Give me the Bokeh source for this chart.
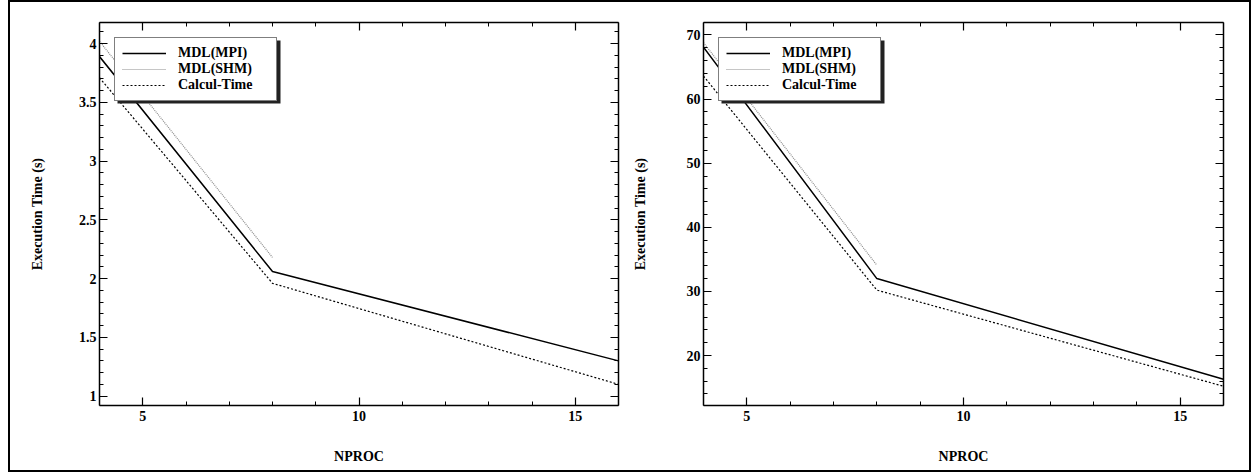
from bokeh.plotting import figure
from bokeh.models import (Range1d, LinearAxis, SingleIntervalTicker,
                          CustomJSTickFormatter, Legend, LegendItem, BoxAnnotation)
from bokeh.layouts import row
from bokeh.embed import file_html
from bokeh.resources import INLINE

# ---- data ----
nproc = [4, 8, 16]
nproc_shm = [4, 8]

small_mpi = [3.89, 2.06, 1.30]
small_shm = [4.02, 2.18]
small_calc = [3.71, 1.96, 1.10]

large_mpi = [68.1, 32.0, 16.3]
large_shm = [68.8, 34.1]
large_calc = [63.6, 30.2, 15.2]

labels = ["MDL(MPI)", "MDL(SHM)", "Calcul-Time"]
x_label = "NPROC"
y_label = "Execution Time (s)"

FONT = "Liberation Serif"
FRAME_H = 383  # plot frame height in px (468 - 20 - 65)


def style_axis(ax, show_labels=True):
    ax.axis_line_color = "black"
    ax.axis_line_width = 1.5
    ax.major_tick_line_color = "black"
    ax.major_tick_line_width = 1.2
    ax.minor_tick_line_color = "black"
    ax.minor_tick_line_width = 1.0
    ax.major_tick_in = 8
    ax.major_tick_out = 0
    ax.minor_tick_in = 4
    ax.minor_tick_out = 0
    ax.major_label_text_font = FONT
    ax.major_label_text_font_style = "bold"
    ax.axis_label_text_font = FONT
    ax.axis_label_text_font_style = "bold"
    ax.axis_label_text_font_size = "14px"
    ax.axis_label_text_color = "black"
    if show_labels:
        ax.major_label_text_font_size = "14px"
        ax.major_label_text_color = "black"
    else:
        ax.major_label_text_font_size = "1px"
        ax.major_label_text_color = None
        ax.major_label_standoff = 0


def make_panel(y0, y1, yint, mpi, shm, calc, width, mbl, mbr, ylab_standoff):
    fmt = CustomJSTickFormatter(code="return String(parseFloat(tick.toFixed(3)));")
    p = figure(width=width, height=468, output_backend="svg", toolbar_location=None,
               x_range=Range1d(4, 16), y_range=Range1d(y0, y1),
               x_axis_type=None, y_axis_type=None,
               min_border_left=mbl, min_border_right=mbr,
               min_border_top=20, min_border_bottom=65)
    p.outline_line_color = None
    p.background_fill_color = "white"
    p.border_fill_color = "white"

    xt = SingleIntervalTicker(interval=5, num_minor_ticks=5)
    yt = SingleIntervalTicker(interval=yint, num_minor_ticks=5)

    xb = LinearAxis(ticker=xt, formatter=fmt, axis_label=x_label)
    style_axis(xb)
    xb.major_label_standoff = 5
    xb.axis_label_standoff = 25
    p.add_layout(xb, "below")

    yl = LinearAxis(ticker=yt, formatter=fmt, axis_label=y_label)
    style_axis(yl)
    yl.major_label_standoff = 3
    yl.axis_label_standoff = ylab_standoff
    p.add_layout(yl, "left")

    xa = LinearAxis(ticker=xt)
    style_axis(xa, show_labels=False)
    p.add_layout(xa, "above")

    yr = LinearAxis(ticker=yt)
    style_axis(yr, show_labels=False)
    p.add_layout(yr, "right")

    r1 = p.line(nproc, mpi, line_color="black", line_width=1.5)
    r2 = p.line(nproc_shm, shm, line_color="#8c8c8c", line_width=1.2, line_dash="1 1")
    r3 = p.line(nproc, calc, line_color="black", line_width=1.2, line_dash="2 2")

    # 3D shadow behind the legend box (screen units, from frame bottom-left)
    shadow = BoxAnnotation(left=18, right=181, top=FRAME_H - 18, bottom=FRAME_H - 81,
                           left_units="screen", right_units="screen",
                           top_units="screen", bottom_units="screen",
                           fill_color="#222222", fill_alpha=1.0, line_color=None)
    p.add_layout(shadow)

    leg = Legend(items=[LegendItem(label=labels[0], renderers=[r1]),
                        LegendItem(label=labels[1], renderers=[r2]),
                        LegendItem(label=labels[2], renderers=[r3])],
                 location="top_left")
    leg.margin = 15
    leg.padding = 7
    leg.spacing = 0
    leg.glyph_width = 44
    leg.glyph_height = 14
    leg.label_height = 14
    leg.label_standoff = 12
    leg.label_width = 91
    leg.label_text_font = FONT
    leg.label_text_font_style = "bold"
    leg.label_text_font_size = "14px"
    leg.label_text_color = "black"
    leg.border_line_color = "black"
    leg.border_line_width = 1.2
    leg.background_fill_color = "white"
    leg.background_fill_alpha = 1.0
    p.add_layout(leg)
    return p


p1 = make_panel(0.92, 4.18, 0.5, small_mpi, small_shm, small_calc,
                width=619, mbl=89, mbr=11, ylab_standoff=31)
p2 = make_panel(12.2, 71.95, 10, large_mpi, large_shm, large_calc,
                width=620, mbl=74, mbr=26, ylab_standoff=36)

p = row(p1, p2, styles={"border": "2px solid black", "margin-left": "8px"})

open("out.html", "w").write(file_html(p, INLINE))
